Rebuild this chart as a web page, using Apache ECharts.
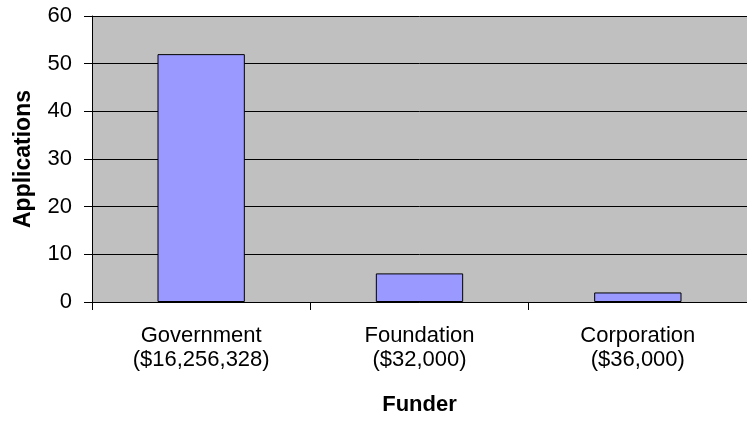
<!DOCTYPE html>
<html>
<head>
<meta charset="utf-8">
<script src="https://cdn.jsdelivr.net/npm/echarts@6/dist/echarts.min.js"></script>
<style>
html,body{margin:0;padding:0;background:#fff;}
#chart{width:747px;height:422px;}
</style>
</head>
<body>
<div id="chart"></div>
<script>
var categories = ['Government\n($16,256,328)', 'Foundation\n($32,000)', 'Corporation\n($36,000)'];
var applications = [52, 6, 2];
var yTicks = [0, 10, 20, 30, 40, 50, 60];

var chart = echarts.init(document.getElementById('chart'));
chart.setOption({
  animation: false,
  grid: {left: 92, right: -3, top: 16, bottom: 120, show: true, backgroundColor: '#C0C0C0', borderWidth: 0},
  xAxis: {
    type: 'category',
    data: categories,
    name: 'Funder',
    nameLocation: 'middle',
    nameGap: 92,
    nameTextStyle: {fontFamily: 'Liberation Sans', fontSize: 22, fontWeight: 'bold', color: '#000'},
    axisLine: {lineStyle: {color: '#000', width: 1}},
    axisTick: {show: true, length: 8, alignWithLabel: false, lineStyle: {color: '#000'}},
    axisLabel: {fontFamily: 'Liberation Sans', fontSize: 22, color: '#000', margin: 22, lineHeight: 24, interval: 0}
  },
  yAxis: {
    type: 'value',
    min: yTicks[0],
    max: yTicks[yTicks.length - 1],
    interval: 10,
    name: 'Applications',
    nameLocation: 'middle',
    nameGap: 57,
    nameTextStyle: {fontFamily: 'Liberation Sans', fontSize: 23, fontWeight: 'bold', color: '#000'},
    axisLine: {show: true, lineStyle: {color: '#000', width: 1}},
    axisTick: {show: true, length: 8, lineStyle: {color: '#000'}},
    axisLabel: {fontFamily: 'Liberation Sans', fontSize: 22, color: '#000', margin: 20},
    splitLine: {show: true, lineStyle: {color: '#000', width: 1}}
  },
  series: [{
    type: 'bar',
    data: applications,
    barWidth: '40%',
    itemStyle: {color: '#9999FF', borderColor: '#000', borderWidth: 1}
  }]
});
</script>
</body>
</html>
